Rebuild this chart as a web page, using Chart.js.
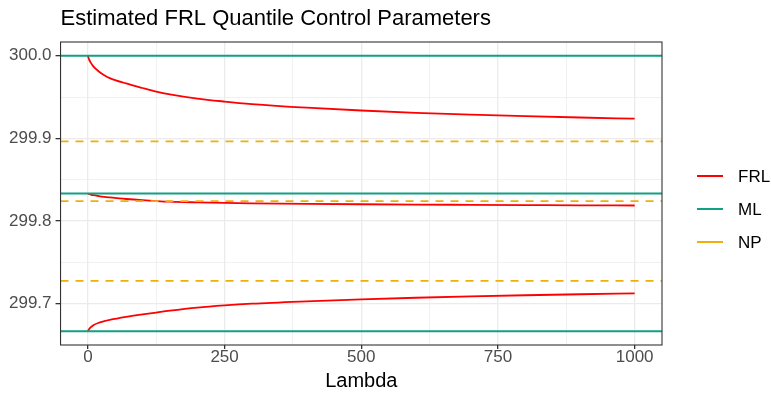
<!DOCTYPE html>
<html>
<head>
<meta charset="utf-8">
<script src="https://cdn.jsdelivr.net/npm/chart.js@4.4.1/dist/chart.umd.min.js"></script>
<style>
  html, body { margin: 0; padding: 0; background: #fff; }
  #wrap { width: 771px; height: 393px; }
</style>
</head>
<body>
<div id="wrap"><canvas id="frlChart"></canvas></div>
<script>
// data
const lambdas   = [0, 2, 5, 10, 20, 30, 40, 70, 100, 125, 150, 200, 250, 300, 400, 500, 600, 700, 800, 900, 1000];
const frlUpper  = [300.0000, 299.9960, 299.9920, 299.9872, 299.9810, 299.9765, 299.9730, 299.9665, 299.9610, 299.9567, 299.9533, 299.9482, 299.9446, 299.9416, 299.9372, 299.9338, 299.9310, 299.9288, 299.9269, 299.9253, 299.9239];
const frlCenter = [299.8333, 299.8327, 299.8321, 299.8313, 299.8302, 299.8293, 299.8286, 299.8267, 299.8252, 299.8242, 299.8234, 299.8226, 299.8220, 299.8215, 299.8208, 299.8203, 299.8199, 299.8196, 299.8193, 299.8190, 299.8188];
const frlLower  = [299.6667, 299.6690, 299.6713, 299.6740, 299.6769, 299.6788, 299.6803, 299.6839, 299.6870, 299.6893, 299.6915, 299.6952, 299.6979, 299.7000, 299.7029, 299.7053, 299.7072, 299.7088, 299.7102, 299.7114, 299.7124];
const mlValues  = [300.0, 299.8333, 299.6667];
const npValues  = [299.8965, 299.824, 299.7275];
const xLimits   = [-50, 1050];
const yLimits   = [299.65, 300.01667];
const xMajor    = [0, 250, 500, 750, 1000];
const xMinor    = [125, 375, 625, 875];
const yMajor    = [299.7, 299.8, 299.9, 300.0];
const yMinor    = [299.75, 299.85, 299.95];
const seriesNames  = ['FRL', 'ML', 'NP'];
const seriesColors = ['#FF0000', '#12A083', '#F0AE0C'];

const FONT = "'Liberation Sans', Arial, Helvetica, sans-serif";
const isIn = (arr, v) => arr.some(a => Math.abs(a - v) < 1e-6);

function curve(vals) {
    return lambdas.map((l, i) => ({ x: l, y: vals[i] }));
}
function hline(v) {
    return xLimits.map(x => ({ x: x, y: v }));
}

const datasets = [];
[frlUpper, frlCenter, frlLower].forEach(vals => datasets.push({
    data: curve(vals), borderColor: seriesColors[0], borderWidth: 1.8,
    pointRadius: 0, cubicInterpolationMode: 'monotone', order: 3
}));
mlValues.forEach(v => datasets.push({
    data: hline(v), borderColor: seriesColors[1], borderWidth: 1.9, pointRadius: 0, order: 2
}));
npValues.forEach(v => datasets.push({
    data: hline(v), borderColor: seriesColors[2], borderWidth: 1.8, borderDash: [8, 7], pointRadius: 0, order: 1
}));

// panel border, title and legend, ggplot style
const ggDecor = {
    id: 'ggDecor',
    afterDatasetsDraw(chart) {
        const { ctx, chartArea: a } = chart;
        ctx.save();
        ctx.strokeStyle = '#333333';
        ctx.lineWidth = 1.1;
        ctx.strokeRect(a.left, a.top, a.right - a.left, a.bottom - a.top);
        ctx.restore();
    },
    afterDraw(chart) {
        const { ctx, chartArea: a } = chart;
        ctx.save();
        ctx.fillStyle = '#000';
        ctx.font = '22px ' + FONT;
        ctx.textBaseline = 'alphabetic';
        ctx.textAlign = 'left';
        ctx.fillText('Estimated FRL Quantile Control Parameters', a.left, 25);

        ctx.font = '17px ' + FONT;
        ctx.textBaseline = 'middle';
        seriesNames.forEach((name, i) => {
            const y = 176 + i * 33;
            ctx.strokeStyle = seriesColors[i];
            ctx.lineWidth = 2;
            ctx.beginPath();
            ctx.moveTo(697, y);
            ctx.lineTo(723, y);
            ctx.stroke();
            ctx.fillText(name, 738, y + 1);
        });
        ctx.restore();
    }
};

new Chart(document.getElementById('frlChart'), {
    type: 'line',
    data: { datasets },
    options: {
        responsive: true,
        maintainAspectRatio: false,
        animation: false,
        layout: { padding: { left: 5, right: 109, top: 42, bottom: 0 } },
        plugins: { legend: { display: false }, tooltip: { enabled: false } },
        scales: {
            x: {
                type: 'linear', min: xLimits[0], max: xLimits[1],
                afterBuildTicks: s => { s.ticks = xMajor.concat(xMinor).sort((a, b) => a - b).map(v => ({ value: v })); },
                ticks: {
                    autoSkip: false, maxRotation: 0, padding: 0, color: '#4D4D4D',
                    font: { family: FONT, size: 17, lineHeight: 1 },
                    callback: v => isIn(xMajor, v) ? String(v) : ''
                },
                grid: {
                    color: '#EBEBEB',
                    lineWidth: c => isIn(xMajor, c.tick.value) ? 1.3 : 0.7,
                    tickColor: c => isIn(xMajor, c.tick.value) ? '#333333' : 'rgba(0,0,0,0)',
                    tickLength: 4, drawTicks: true
                },
                border: { display: false },
                title: {
                    display: true, text: 'Lambda', color: '#000',
                    font: { family: FONT, size: 20, lineHeight: 1.2 },
                    padding: { top: 3, bottom: 0 }
                }
            },
            y: {
                type: 'linear', min: yLimits[0], max: yLimits[1],
                afterBuildTicks: s => { s.ticks = yMajor.concat(yMinor).sort((a, b) => a - b).map(v => ({ value: v })); },
                ticks: {
                    autoSkip: false, padding: 4, color: '#4D4D4D',
                    font: { family: FONT, size: 17 },
                    callback: v => isIn(yMajor, v) ? v.toFixed(1) : ''
                },
                grid: {
                    color: '#EBEBEB',
                    lineWidth: c => isIn(yMajor, c.tick.value) ? 1.3 : 0.7,
                    tickColor: c => isIn(yMajor, c.tick.value) ? '#333333' : 'rgba(0,0,0,0)',
                    tickLength: 5, drawTicks: true
                },
                border: { display: false }
            }
        }
    },
    plugins: [ggDecor]
});
</script>
</body>
</html>
